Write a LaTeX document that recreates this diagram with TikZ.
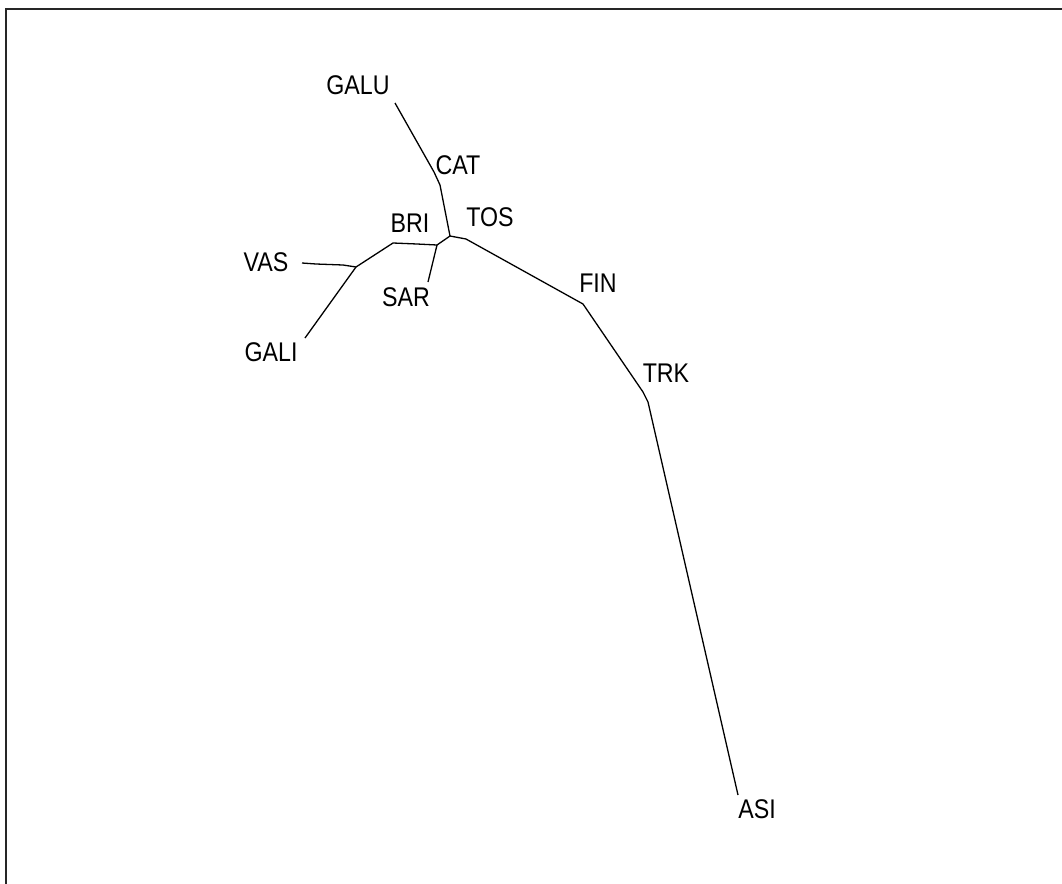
\documentclass[tikz,border=0pt]{standalone}
\usepackage{fontspec}
\setmainfont{Liberation Sans}[FakeStretch=0.86]
\usepackage{tikz}

\begin{document}
\begin{tikzpicture}[
  x=1pt, y=-1pt,
  every node/.style={font=\fontsize{27}{30}\selectfont, inner sep=0pt},
  branch/.style={line width=1.3pt, black, line join=round},
  frame/.style={line width=2.2pt, black!85},
]
\useasboundingbox (0,0) rectangle (1062,883);
\clip (0,0) rectangle (1062,883);
\draw[frame] (6,9) rectangle (1080,900);

% tips and inner points of the tree
\coordinate (galu) at (395,103);
\coordinate (cat)  at (434,172);
\coordinate (catb) at (440,185);
\coordinate (top)  at (450,236);
\coordinate (tosb) at (466,239);
\coordinate (fin)  at (583,304);
\coordinate (trk)  at (643,392);
\coordinate (trkb) at (648,402);
\coordinate (asi)  at (738,795);
\coordinate (sarb) at (437,245);
\coordinate (sar)  at (428,282);
\coordinate (bri)  at (417,244);
\coordinate (brib) at (393,243);
\coordinate (vasb) at (356,267);
\coordinate (vasc) at (343,265);
\coordinate (vasd) at (316,264);
\coordinate (vas)  at (302,263);
\coordinate (gali) at (305,338);

\node (lgalu) at (358,85)  {GALU};
\node (lcat)  at (458,165) {CAT};
\node (ltos)  at (490,217) {TOS};
\node (lbri)  at (410,223) {BRI};
\node (lvas)  at (266,262) {VAS};
\node (lsar)  at (406,297) {SAR};
\node (lgali) at (271,352) {GALI};
\node (lfin)  at (598,283) {FIN};
\node (ltrk)  at (666,373) {TRK};
\node (lasi)  at (757,809) {ASI};

\draw[branch] (galu) -- (cat) -- (catb) -- (top);
\draw[branch] (top) -- (tosb) -- (fin) -- (trk) -- (trkb) -- (asi);
\draw[branch] (top) -- (sarb) -- (bri) -- (brib) -- (vasb);
\draw[branch] (sarb) -- (sar);
\draw[branch] (vas) -- (vasd) -- (vasc) -- (vasb);
\draw[branch] (vasb) -- (gali);
\end{tikzpicture}
\end{document}
